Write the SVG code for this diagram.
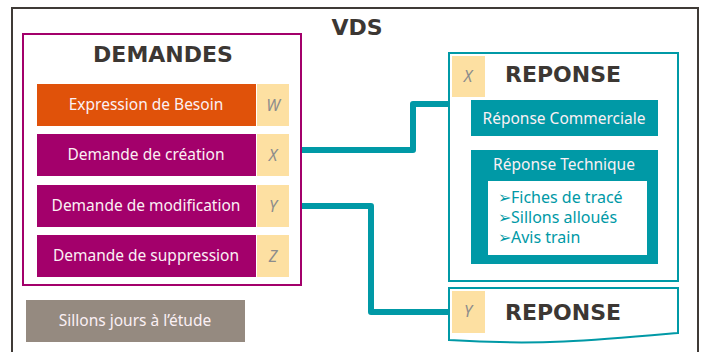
<svg xmlns="http://www.w3.org/2000/svg" width="705" height="352" viewBox="0 0 705 352">
  <style>
    .lbl { font-family: "Noto Sans", "Open Sans", sans-serif; font-size: 15.5px; fill: #fbf0f4; text-anchor: middle; }
    .title { font-family: "DejaVu Sans", "Noto Sans", sans-serif; font-weight: bold; fill: #3c3733; text-anchor: middle; }
    .tag { fill: #fde0a2; }
    .tagtxt { font-family: "Noto Sans", sans-serif; font-style: italic; font-size: 16px; fill: #8c8c8c; text-anchor: middle; }
    .dem { fill: #a3006b; }
    .teal { fill: #0099a6; }
    .bul { font-family: "Noto Sans", "Open Sans", sans-serif; font-size: 16px; fill: #0099a6; }
    .conn { fill: none; stroke: #0099a6; stroke-width: 6; stroke-linejoin: round; }
  </style>
  <rect width="705" height="352" fill="#ffffff"/>

  <!-- VDS frame -->
  <g id="vds">
    <rect x="12" y="8" width="686" height="360" fill="none" stroke="#3f3a36" stroke-width="2"/>
    <text class="title" x="357" y="35" font-size="22">VDS</text>
  </g>

  <!-- connectors -->
  <g id="connectors">
    <path class="conn" d="M301,150 H413 V104 H449"/>
    <path class="conn" d="M301,206 H371 V312 H449"/>
  </g>

  <!-- DEMANDES block -->
  <g id="demandes">
    <rect x="23" y="34" width="278" height="251" fill="#ffffff" stroke="#a3006b" stroke-width="2"/>
    <text class="title" x="163" y="62" font-size="22">DEMANDES</text>
  </g>
  <g id="expression-besoin">
    <rect x="37" y="84" width="219" height="42" fill="#e0520a"/>
    <rect class="tag" x="257" y="84" width="32" height="42"/>
    <text class="lbl" x="146" y="110">Expression de Besoin</text>
    <text class="tagtxt" x="273" y="111">W</text>
  </g>
  <g id="demande-creation">
    <rect class="dem" x="37" y="134" width="219" height="42"/>
    <rect class="tag" x="257" y="134" width="32" height="42"/>
    <text class="lbl" x="146" y="160">Demande de création</text>
    <text class="tagtxt" x="273" y="161">X</text>
  </g>
  <g id="demande-modification">
    <rect class="dem" x="37" y="185" width="219" height="42"/>
    <rect class="tag" x="257" y="185" width="32" height="42"/>
    <text class="lbl" x="146" y="211">Demande de modification</text>
    <text class="tagtxt" x="273" y="212">Y</text>
  </g>
  <g id="demande-suppression">
    <rect class="dem" x="37" y="235" width="219" height="42"/>
    <rect class="tag" x="257" y="235" width="32" height="42"/>
    <text class="lbl" x="146" y="261">Demande de suppression</text>
    <text class="tagtxt" x="273" y="262">Z</text>
  </g>

  <!-- Sillons jours -->
  <g id="sillons-jours">
    <rect x="26" y="300" width="219" height="42" fill="#958a80"/>
    <text class="lbl" x="135" y="326">Sillons jours à l’étude</text>
  </g>

  <!-- REPONSE X -->
  <g id="reponse-x">
    <rect x="449" y="53" width="229" height="228" fill="#ffffff" stroke="#0099a6" stroke-width="2"/>
    <rect class="tag" x="452" y="56" width="33" height="41"/>
    <text class="tagtxt" x="468" y="82">X</text>
    <text class="title" x="563" y="82" font-size="22">REPONSE</text>
  </g>
  <g id="reponse-commerciale">
    <rect class="teal" x="471" y="100" width="187" height="36"/>
    <text class="lbl" x="564" y="124">Réponse Commerciale</text>
  </g>
  <g id="reponse-technique">
    <rect class="teal" x="471" y="150" width="187" height="114"/>
    <text class="lbl" x="564" y="170">Réponse Technique</text>
    <rect x="488" y="181" width="159" height="74" fill="#ffffff"/>
    <text class="bul" x="498" y="203">➢Fiches de tracé</text>
    <text class="bul" x="498" y="223">➢Sillons alloués</text>
    <text class="bul" x="498" y="243">➢Avis train</text>
  </g>

  <!-- REPONSE Y -->
  <g id="reponse-y">
    <path d="M449,288 H678 V333 C600,340 540,346 449,340 Z" fill="#ffffff" stroke="#0099a6" stroke-width="2"/>
    <rect class="tag" x="452" y="291" width="33" height="42"/>
    <text class="tagtxt" x="468" y="317">Y</text>
    <text class="title" x="563" y="320" font-size="22">REPONSE</text>
  </g>
</svg>
